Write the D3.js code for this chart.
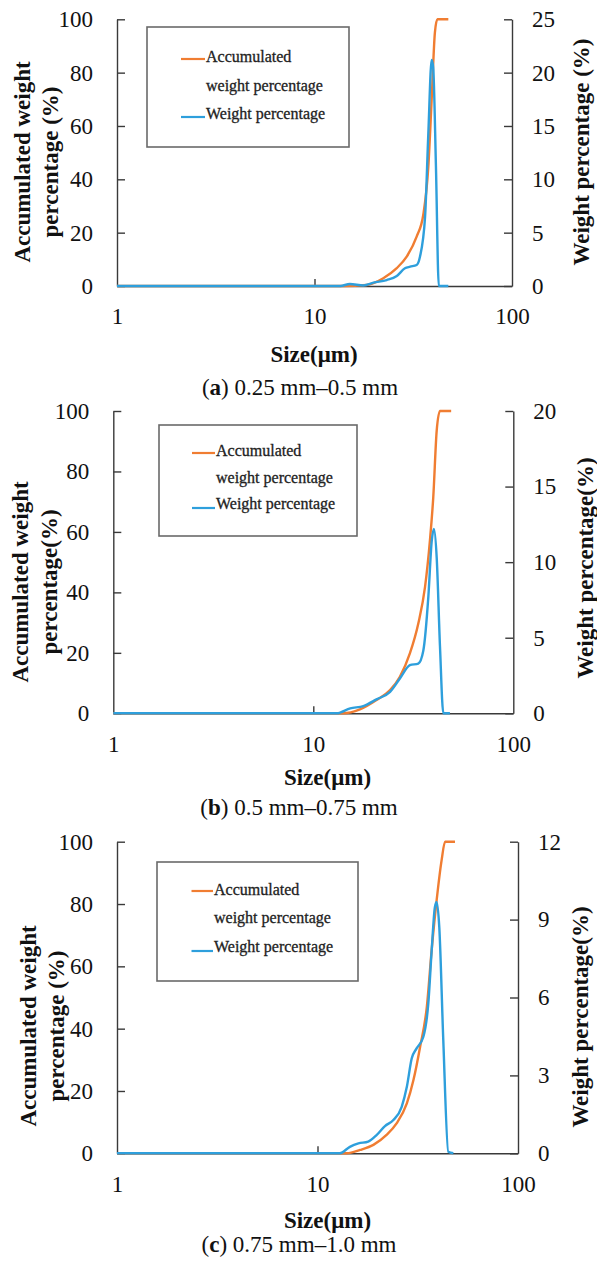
<!DOCTYPE html>
<html>
<head>
<meta charset="utf-8">
<script src="https://cdn.jsdelivr.net/npm/d3@7"></script>
<style>
  html, body { margin: 0; padding: 0; background: #fff; }
  svg { display: block; }
</style>
</head>
<body>
<svg id="chart" width="597" height="1269"></svg>
<script>
// ---------- DATA ----------
const xTickValues = [1, 10, 100];
const leftTickValues = [0, 20, 40, 60, 80, 100];
const rightTicksA = [0, 5, 10, 15, 20, 25];
const rightTicksB = [0, 5, 10, 15, 20];
const rightTicksC = [0, 3, 6, 9, 12];

const seriesNames = ["Accumulated", "weight percentage", "Weight percentage"];

// Panel (a) 0.25 mm–0.5 mm
const sizesA_acc = [1, 14, 18.4, 22.3, 26, 29.3, 32.9, 35.6, 37.7, 39.2, 40.7, 41.9, 47.6];
const accA       = [0, 0, 0.4, 2.9, 6.6, 11, 18.5, 27, 44.7, 70, 95, 100, 100];
const sizesA_wt  = [1, 13.5, 15.1, 17.7, 19.9, 23.2, 26.1, 28.7, 30.5, 32.9, 34.2, 36.3, 37.7, 39.2, 39.9, 41.2, 42.6, 47.6];
const wtA        = [0, 0, 0.19, 0.05, 0.31, 0.56, 0.94, 1.66, 1.81, 1.97, 2.75, 6.5, 14.3, 21.2, 20.5, 11.2, 0, 0];

// Panel (b) 0.5 mm–0.75 mm
const sizesB_acc = [1, 14.1, 17.1, 20.7, 24.2, 27.1, 30.4, 33.5, 36.2, 38.3, 39.8, 41.4, 43, 48.9];
const accB       = [0, 0, 1.3, 4.4, 7.7, 12.1, 19.8, 29.7, 41.8, 57.2, 71.5, 93.5, 100, 100];
const sizesB_wt  = [1, 13.1, 15.3, 17.8, 20.7, 24.2, 27.1, 30.4, 33.5, 35.5, 37.6, 39.1, 40.1, 41.4, 43.0, 44.7, 48.2];
const wtB        = [0, 0, 0.33, 0.48, 0.92, 1.42, 2.3, 3.18, 3.29, 4.16, 7.7, 11.4, 12.2, 10.3, 4.4, 0, 0];

// Panel (c) 0.75 mm–1.0 mm
const sizesC_acc = [1, 14, 16.3, 19, 22.1, 24.8, 27.9, 30.1, 32.5, 35.1, 37.1, 39.3, 41.6, 43.3, 48.5];
const accC       = [0, 0, 1.07, 2.7, 5.9, 9.6, 16, 23.5, 34.2, 47, 65.2, 81.3, 94.1, 100, 100];
const sizesC_wt  = [1, 12.9, 14.5, 16.0, 17.9, 19.7, 21.7, 23.9, 26.3, 27.9, 29.5, 31.2, 33.7, 35.7, 37.1, 38.5, 39.3, 40.5, 42.4, 44.9, 47.6];
const wtC        = [0, 0, 0.25, 0.38, 0.45, 0.7, 1.05, 1.28, 1.79, 2.56, 3.65, 4.04, 4.48, 5.77, 7.8, 9.48, 9.68, 8.7, 4.36, 0.06, 0];

// ---------- FONT PICK ----------
function pickFont(cands) {
  const ctx = document.createElement("canvas").getContext("2d");
  const s = "Accumulated weight 0123456789 mmWWiil";
  const w = f => { ctx.font = "40px " + f; return ctx.measureText(s).width; };
  const mono = w("monospace"), sans = w("sans-serif");
  for (const c of cands) {
    const a = w(`"${c}", monospace`), b = w(`"${c}", sans-serif`);
    if (Math.abs(a - mono) > 0.5 || Math.abs(b - sans) > 0.5) return `"${c}"`;
  }
  return "serif";
}
const SERIF = pickFont(["Liberation Serif", "Tinos", "Times New Roman", "Times", "Nimbus Roman", "DejaVu Serif"]) + ", serif";

// ---------- LAYOUT ----------
const panels = [
  { id: "a", range: "0.25 mm–0.5 mm",
    sAcc: sizesA_acc, acc: accA, sWt: sizesA_wt, wt: wtA, rTicks: rightTicksA,
    left: 117, right: 512, top: 19.3, bottom: 286,
    leftTitle2: "percentage (%)", rightTitle: "Weight percentage (%)",
    lt1x: 30, lt2x: 58, lty: 162, rtx: 589, rty: 152,
    sx: 314, sy: 362, cx: 300, cy: 395,
    box: [147, 27, 349, 147], lineY: [59, 117], lx: [181, 205], ty: [62, 91, 119] },
  { id: "b", range: "0.5 mm–0.75 mm",
    sAcc: sizesB_acc, acc: accB, sWt: sizesB_wt, wt: wtB, rTicks: rightTicksB,
    left: 113.3, right: 513.3, top: 411, bottom: 713.3,
    leftTitle2: "percentage(%)", rightTitle: "Weight percentage(%)",
    lt1x: 28, lt2x: 57, lty: 582, rtx: 593, rty: 568,
    sx: 327.5, sy: 785, cx: 299, cy: 815,
    box: [159, 425, 357, 536], lineY: [453, 508], lx: [192, 215], ty: [456, 483, 509] },
  { id: "c", range: "0.75 mm–1.0 mm",
    sAcc: sizesC_acc, acc: accC, sWt: sizesC_wt, wt: wtC, rTicks: rightTicksC,
    left: 117, right: 518, top: 841.7, bottom: 1153.3,
    leftTitle2: "percentage (%)", rightTitle: "Weight percentage(%)",
    lt1x: 36, lt2x: 64, lty: 1026, rtx: 588, rty: 1017,
    sx: 327.5, sy: 1228, cx: 299, cy: 1252,
    box: [157, 862, 358, 981], lineY: [891, 951], lx: [191.5, 213], ty: [895, 923, 952] }
];

const ORANGE = "#F07D32";
const BLUE = "#2E9FDC";
const AXIS = "#3a3a3a";
const FS = 23;

const svg = d3.select("#chart").attr("font-family", SERIF);

panels.forEach(p => {
  const g = svg.append("g");
  const x = d3.scaleLog().domain([1, 100]).range([p.left, p.right]);
  const yL = d3.scaleLinear().domain([0, 100]).range([p.bottom, p.top]);
  const rMax = p.rTicks[p.rTicks.length - 1];
  const yR = d3.scaleLinear().domain([0, rMax]).range([p.bottom, p.top]);

  // axes
  const ax = g.append("g").attr("transform", `translate(0,${p.bottom})`)
    .call(d3.axisBottom(x).tickValues(xTickValues).tickFormat(d3.format("d"))
      .tickSizeInner(-7).tickSizeOuter(0).tickPadding(22));
  const al = g.append("g").attr("transform", `translate(${p.left},0)`)
    .call(d3.axisLeft(yL).tickValues(leftTickValues).tickFormat(d3.format("d"))
      .tickSizeInner(-8).tickSizeOuter(0).tickPadding(24));
  const ar = g.append("g").attr("transform", `translate(${p.right},0)`)
    .call(d3.axisRight(yR).tickValues(p.rTicks).tickFormat(d3.format("d"))
      .tickSizeInner(-8).tickSizeOuter(0).tickPadding(20));
  [ax, al, ar].forEach(a => {
    a.attr("font-family", SERIF).attr("font-size", FS);
    a.selectAll("path.domain").attr("stroke", AXIS).attr("stroke-width", 1.4);
    a.selectAll(".tick line").attr("stroke", AXIS).attr("stroke-width", 1.4);
    a.selectAll(".tick text").attr("fill", "#111");
  });
  ax.selectAll(".tick line").filter(d => d === 1 || d === 100).remove();

  // lines
  const lineL = d3.line().x(d => x(d[0])).y(d => yL(d[1])).curve(d3.curveMonotoneX);
  const lineR = d3.line().x(d => x(d[0])).y(d => yR(d[1])).curve(d3.curveMonotoneX);
  g.append("path").datum(d3.zip(p.sAcc, p.acc)).attr("d", lineL)
    .attr("fill", "none").attr("stroke", ORANGE).attr("stroke-width", 2.4).attr("stroke-linejoin", "round");
  g.append("path").datum(d3.zip(p.sWt, p.wt)).attr("d", lineR)
    .attr("fill", "none").attr("stroke", BLUE).attr("stroke-width", 2.4).attr("stroke-linejoin", "round");

  // legend
  const [bx0, by0, bx1, by1] = p.box;
  g.append("rect").attr("x", bx0).attr("y", by0).attr("width", bx1 - bx0).attr("height", by1 - by0)
    .attr("fill", "#fff").attr("stroke", "#6a6a6a").attr("stroke-width", 1.6);
  g.append("line").attr("x1", p.lx[0]).attr("x2", p.lx[1]).attr("y1", p.lineY[0]).attr("y2", p.lineY[0])
    .attr("stroke", ORANGE).attr("stroke-width", 2.2);
  g.append("line").attr("x1", p.lx[0]).attr("x2", p.lx[1]).attr("y1", p.lineY[1]).attr("y2", p.lineY[1])
    .attr("stroke", BLUE).attr("stroke-width", 2.2);
  seriesNames.forEach((t, i) => {
    g.append("text").attr("x", p.lx[1] + 1).attr("y", p.ty[i]).text(t)
      .attr("font-size", 16).attr("fill", "#222").attr("stroke", "#222").attr("stroke-width", 0.3);
  });

  // axis titles
  const bold = (sel) => sel.attr("font-size", FS).attr("font-weight", "bold").attr("fill", "#111");
  bold(g.append("text").attr("transform", `translate(${p.lt1x},${p.lty}) rotate(-90)`)
    .attr("text-anchor", "middle").text("Accumulated weight"));
  bold(g.append("text").attr("transform", `translate(${p.lt2x},${p.lty}) rotate(-90)`)
    .attr("text-anchor", "middle").text(p.leftTitle2));
  bold(g.append("text").attr("transform", `translate(${p.rtx},${p.rty}) rotate(-90)`)
    .attr("text-anchor", "middle").text(p.rightTitle));
  bold(g.append("text").attr("x", p.sx).attr("y", p.sy).attr("text-anchor", "middle").text("Size(μm)"));

  // caption
  const cap = g.append("text").attr("x", p.cx).attr("y", p.cy).attr("text-anchor", "middle")
    .attr("font-size", FS).attr("fill", "#111");
  cap.append("tspan").text("(");
  cap.append("tspan").attr("font-weight", "bold").text(p.id);
  cap.append("tspan").text(") " + p.range);
});
</script>
</body>
</html>
